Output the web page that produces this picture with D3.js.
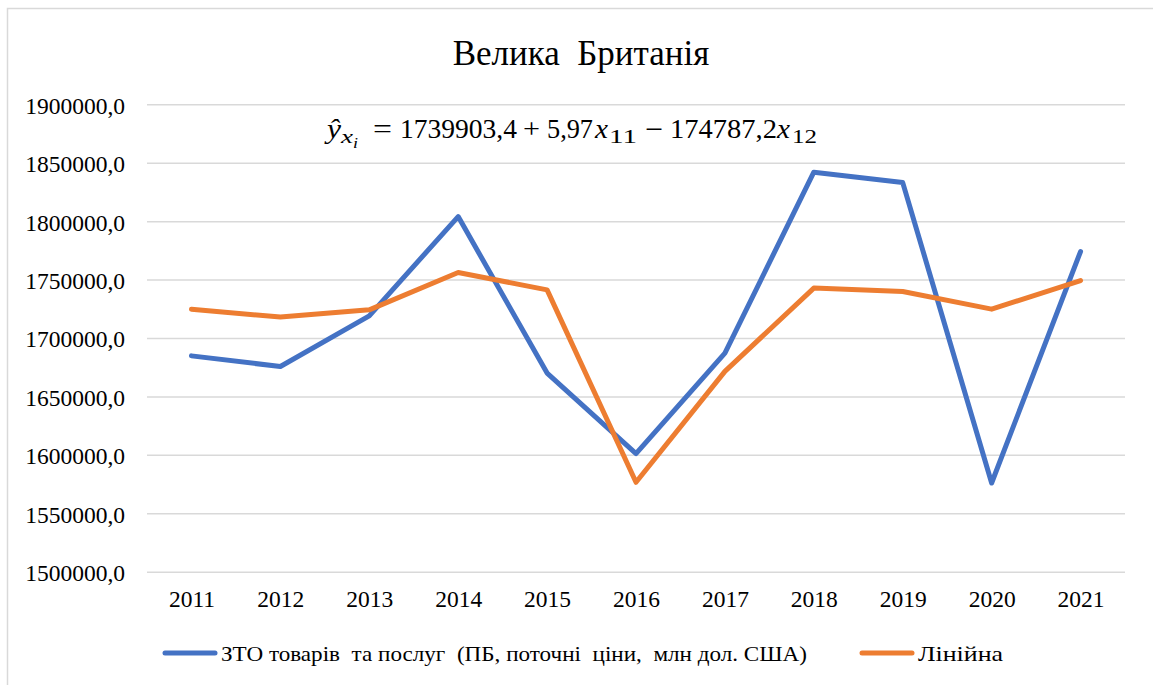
<!DOCTYPE html>
<html>
<head>
<meta charset="utf-8">
<script src="https://cdn.jsdelivr.net/npm/d3@7"></script>
</head>
<body style="margin:0">
<script>
// chart data
const years = ["2011", "2012", "2013", "2014", "2015", "2016", "2017", "2018", "2019", "2020", "2021"];
const zto = [1684700, 1675600, 1719000, 1803900, 1670000, 1601000, 1687100, 1841900, 1833000, 1575900, 1774000];
const linear = [1724700, 1717900, 1724100, 1756000, 1741200, 1576500, 1671400, 1742700, 1739800, 1724700, 1749200];
const yTicks = [1500000, 1550000, 1600000, 1650000, 1700000, 1750000, 1800000, 1850000, 1900000];
const seriesNames = ["ЗТО товарів  та послуг  (ПБ, поточні  ціни,  млн дол. США)", "Лінійна"];
const colors = ["#4472C4", "#ED7D31"];

const SERIF = '"Liberation Serif"';
const W = 1153, H = 685;
const svg = d3.select('body').append('svg')
  .attr('width', W)
  .attr('height', H);

// chart area border
svg.append('rect')
  .attr('x', 7.5).attr('y', 8.5)
  .attr('width', 1148).attr('height', 700)
  .attr('fill', 'none')
  .attr('stroke', '#D9D9D9')
  .attr('stroke-width', 1.5);

const plot = {left: 147, right: 1125, top: 104.3, bottom: 571.7};

const x = d3.scalePoint()
  .domain(years)
  .range([plot.left, plot.right])
  .padding(0.5);

const y = d3.scaleLinear()
  .domain([1500000, 1900000])
  .range([plot.bottom, plot.top]);

const fmt = d => d3.format('.1f')(d).replace('.', ',');

// gridlines + y labels
const yAxis = svg.append('g')
  .attr('transform', 'translate(' + plot.left + ',0)')
  .call(d3.axisLeft(y).tickValues(yTicks).tickSize(-(plot.right - plot.left)).tickPadding(22).tickFormat(fmt));
yAxis.select('.domain').remove();
yAxis.selectAll('.tick line')
  .attr('stroke', '#D9D9D9')
  .attr('stroke-width', 1.5);
yAxis.selectAll('.tick text')
  .style('font-family', SERIF)
  .style('font-size', '23.5px')
  .attr('dy', '0.38em')
  .attr('fill', '#000');

// x labels
const xAxis = svg.append('g')
  .attr('transform', 'translate(0,' + plot.bottom + ')')
  .call(d3.axisBottom(x).tickSize(0).tickPadding(19));
xAxis.select('.domain').remove();
xAxis.selectAll('.tick text')
  .style('font-family', SERIF)
  .style('font-size', '23.5px')
  .attr('fill', '#000');

// lines
const line = d3.line()
  .x((d, i) => x(years[i]))
  .y(d => y(d));

[zto, linear].forEach((s, k) => {
  svg.append('path')
    .datum(s)
    .attr('d', line)
    .attr('fill', 'none')
    .attr('stroke', colors[k])
    .attr('stroke-width', 5)
    .attr('stroke-linejoin', 'round')
    .attr('stroke-linecap', 'round');
});

// title
svg.append('text')
  .attr('x', 581)
  .attr('y', 65)
  .attr('text-anchor', 'middle')
  .style('font-family', SERIF)
  .style('font-size', '35px')
  .style('white-space', 'pre')
  .text('Велика  Британія');

// regression equation, laid out piece by piece like the math typesetting
// [text, x, width, fontSize, baseline, italic]
const eqPieces = [
  ['ŷ', 327, 14, 27, 138, true],
  ['x', 341, 12, 19, 143, true],
  ['i', 353, 5, 14, 148, true],
  ['=', 373, 19, 27, 138, false],
  ['1739903,4', 400, 117, 27, 138, false],
  ['+', 523, 17, 27, 138, false],
  ['5,97', 547, 46, 27, 138, false],
  ['x', 595, 13, 27, 138, true],
  ['11', 609, 28, 19, 143, false],
  ['−', 645, 18, 27, 138, false],
  ['174787,2', 670, 107, 27, 138, false],
  ['x', 777, 13, 27, 138, true],
  ['12', 792, 25, 19, 143, false]
];
const eq = svg.append('g').attr('class', 'equation');
eqPieces.forEach(p => {
  eq.append('text')
    .attr('x', p[1])
    .attr('y', p[4])
    .attr('textLength', p[2])
    .attr('lengthAdjust', 'spacingAndGlyphs')
    .style('font-family', SERIF)
    .style('font-size', p[3] + 'px')
    .style('font-style', p[5] ? 'italic' : 'normal')
    .text(p[0]);
});

// legend
const legendX = [165, 862];
const legendTextLen = [586, 85];
seriesNames.forEach((name, k) => {
  svg.append('line')
    .attr('x1', legendX[k]).attr('x2', legendX[k] + 50)
    .attr('y1', 653).attr('y2', 653)
    .attr('stroke', colors[k])
    .attr('stroke-width', 5)
    .attr('stroke-linecap', 'round');
  svg.append('text')
    .attr('x', legendX[k] + 56)
    .attr('y', 661)
    .style('font-family', SERIF)
    .style('font-size', '22px')
    .style('white-space', 'pre')
    .attr('textLength', legendTextLen[k])
    .attr('lengthAdjust', 'spacingAndGlyphs')
    .text(name);
});
</script>
</body>
</html>
